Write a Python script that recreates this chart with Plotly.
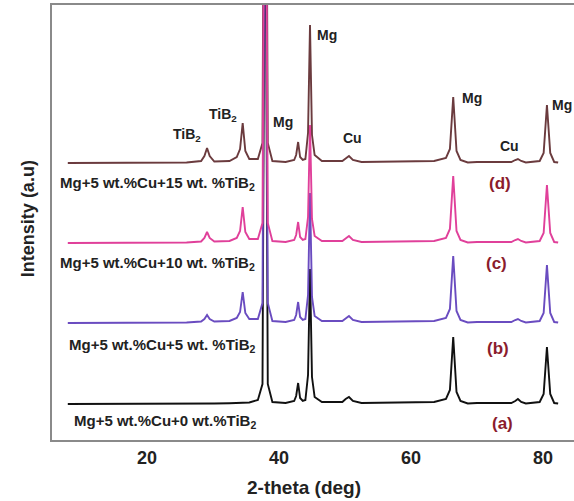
import plotly.graph_objects as go

# 2-theta grid (deg)
two_theta = [8.0, 20.0, 26.0, 28.2, 28.7, 29.1, 29.5, 30.2, 32.5, 33.6, 34.1, 34.5, 34.9, 35.5,
             36.8, 37.5, 37.9, 38.3, 39.0, 41.0, 42.3, 42.6, 42.9, 43.2, 43.6, 44.0, 44.4, 44.7,
             45.0, 45.4, 46.5, 49.6, 50.1, 50.6, 51.2, 52.5, 58.0, 63.5, 65.3, 65.9, 66.4, 66.9,
             67.5, 68.6, 70.0, 75.2, 75.8, 76.2, 76.7, 77.4, 79.5, 80.1, 80.6, 81.1, 81.7, 82.3]

# relative intensities (a.u.)
int_a = [0, 0, 0.3, 0.5, 0.5, 0.5, 0.5, 0.5, 0.8, 1, 1, 1, 1, 1.5, 4, 20, 600, 20, 2, 1, 3, 8, 21,
         6, 3, 4, 29, 135, 27, 7, 2, 2, 5, 7, 3, 1, 1.5, 2, 5, 14, 67, 12, 3, 0.5, 1, 1, 3, 5, 2,
         0.5, 2, 10, 57, 10, 1, 0.5]
int_b = [0, 0, 0.5, 1.5, 4, 8, 4, 1.5, 2, 5, 11, 31, 10, 4, 4, 20, 600, 20, 2, 1, 3, 8, 21, 6, 3,
         4, 28, 130, 26, 7, 2, 2, 5, 7, 3, 1, 1.5, 2, 5, 14, 67, 12, 3, 0.5, 1, 1, 3, 4, 2, 0.5,
         2, 10, 58, 10, 1, 0.5]
int_c = [0, 0, 0.5, 1.5, 5, 11, 5, 1.5, 2, 5, 12, 36, 11, 4, 4, 20, 600, 20, 2, 1, 3, 8, 21, 6, 3,
         4, 26, 118, 24, 7, 2, 2, 5, 7, 3, 1, 1.5, 2, 5, 14, 67, 12, 3, 0.5, 1, 1, 3, 4, 2, 0.5,
         2, 10, 58, 10, 1, 0.5]
int_d = [0, 0, 0.5, 2, 7, 15, 7, 1.5, 2, 6, 14, 40, 12, 4, 4, 20, 600, 20, 2, 1, 3, 8, 21, 6, 3,
         4, 30, 138, 28, 8, 2, 2, 5, 7, 3, 1, 1.5, 2, 5, 14, 66, 12, 3, 0.5, 1, 1, 3, 4, 2, 0.5,
         2, 10, 58, 10, 1, 0.5]

offsets = {"a": 36, "b": 117, "c": 197, "d": 277}
samples = ["a", "b", "d", "c"]  # drawing order
series = {"a": int_a, "b": int_b, "c": int_c, "d": int_d}
colors = {"a": "#111111", "b": "#6a4cc0", "c": "#e0409a", "d": "#6b3b3e"}

sample_labels = {"d": "Mg+5 wt.%Cu+15 wt. %TiB<sub>2</sub>",
                 "c": "Mg+5 wt.%Cu+10 wt. %TiB<sub>2</sub>",
                 "b": "Mg+5 wt.%Cu+5 wt. %TiB<sub>2</sub>",
                 "a": "Mg+5 wt.%Cu+0 wt.%TiB<sub>2</sub>"}
tick_vals = [20, 40, 60, 80]

fig = go.Figure()
for s in samples:
    fig.add_trace(go.Scatter(x=two_theta, y=[v + offsets[s] for v in series[s]], mode="lines",
                             line=dict(color=colors[s], width=1.9), showlegend=False, cliponaxis=True))

FONT = "Liberation Sans, Arial, sans-serif"
ann = []
peak_labels = [(26.06, 305, "TiB<sub>2</sub>"), (31.5, 325, "TiB<sub>2</sub>"), (40.6, 318, "Mg"),
               (47.3, 405, "Mg"), (51.2, 302, "Cu"), (69.2, 342, "Mg"), (75.0, 294, "Cu"),
               (82.9, 335, "Mg")]
for x, y, t in peak_labels:
    ann.append(dict(x=x, y=y, text="<b>" + t + "</b>", showarrow=False,
                    font=dict(family=FONT, size=14, color="#222222")))
lab_pos = {"d": (6.52, 257), "c": (6.52, 177), "b": (7.88, 95), "a": (8.64, 19)}
for s, (x, y) in lab_pos.items():
    ann.append(dict(x=x, y=y, text="<b>" + sample_labels[s] + "</b>", showarrow=False, xanchor="left",
                    font=dict(family=FONT, size=15, color="#222222")))
let_pos = {"d": (73.5, 257), "c": (73.0, 177), "b": (73.2, 92), "a": (73.9, 17)}
for s, (x, y) in let_pos.items():
    ann.append(dict(x=x, y=y, text="<b>(" + s + ")</b>", showarrow=False,
                    font=dict(family=FONT, size=17, color="#8b1c2c")))
# axis titles
ann.append(dict(xref="paper", yref="paper", x=0.483, y=-0.110, xanchor="center", yanchor="middle",
                text="<b>2-theta (deg)</b>",
                showarrow=False, font=dict(family=FONT, size=19, color="#222222")))
ann.append(dict(xref="paper", yref="paper", x=-0.046, y=0.51, xanchor="center", yanchor="middle",
                text="<b>Intensity (a.u)</b>",
                textangle=-90, showarrow=False, font=dict(family=FONT, size=18, color="#222222")))

fig.update_layout(
    width=574, height=501, margin=dict(l=52, r=0, t=5, b=61),
    paper_bgcolor="white", plot_bgcolor="white",
    annotations=ann,
    xaxis=dict(range=[5.606, 84.70], tickvals=tick_vals, ticktext=["<b>%d</b>" % v for v in tick_vals],
               showgrid=False, zeroline=False, showline=True, mirror=True, linecolor="#8a8a8a",
               linewidth=2, ticks="", ticklabelstandoff=0,
               tickfont=dict(family=FONT, size=18, color="#222222")),
    yaxis=dict(range=[0, 435], showticklabels=False, showgrid=False, zeroline=False, showline=True,
               linecolor="#8a8a8a", linewidth=2, ticks=""),
)
fig.write_html("out.html")
